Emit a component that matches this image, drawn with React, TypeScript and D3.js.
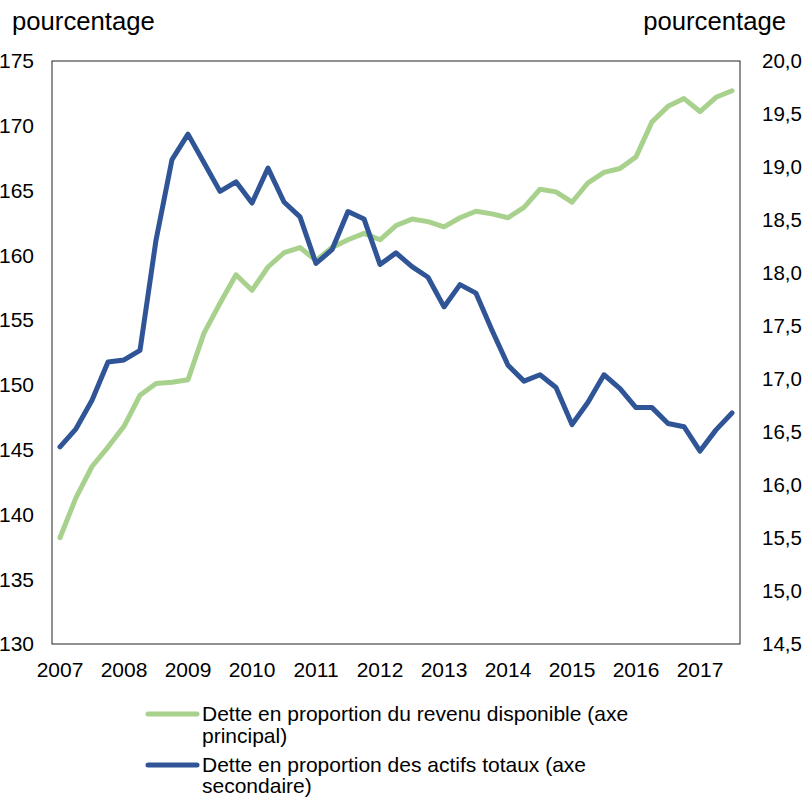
import React from 'react';
import * as d3 from 'd3';

// quarterly, 2007T1 .. 2017T3
const quarters: string[] = [];
for (let y = 2007; y <= 2017; y++) {
  for (let q = 1; q <= 4; q++) {
    if (y === 2017 && q === 4) break;
    quarters.push(`${y}T${q}`);
  }
}

const yearLabels = ['2007', '2008', '2009', '2010', '2011', '2012', '2013', '2014', '2015', '2016', '2017'];

// dette / revenu disponible (axe principal)
const debtToIncome = [
  138.2, 141.3, 143.7, 145.2, 146.8, 149.2, 150.1, 150.2, 150.4, 154.0,
  156.3, 158.5, 157.3, 159.1, 160.2, 160.6, 159.6, 160.6, 161.2, 161.7,
  161.2, 162.3, 162.8, 162.6, 162.2, 162.9, 163.4, 163.2, 162.9, 163.7,
  165.1, 164.9, 164.1, 165.6, 166.4, 166.7, 167.6, 170.3, 171.5, 172.1,
  171.1, 172.2, 172.7,
];

// dette / actifs totaux (axe secondaire)
const debtToAssets = [
  16.36, 16.53, 16.80, 17.16, 17.18, 17.27, 18.31, 19.07, 19.31, 19.04,
  18.77, 18.86, 18.66, 18.99, 18.67, 18.53, 18.09, 18.22, 18.58, 18.51,
  18.08, 18.19, 18.06, 17.96, 17.68, 17.89, 17.81, 17.46, 17.13, 16.98,
  17.04, 16.92, 16.57, 16.78, 17.04, 16.91, 16.73, 16.73, 16.58, 16.55,
  16.32, 16.52, 16.68,
];

const leftTicks = [130, 135, 140, 145, 150, 155, 160, 165, 170, 175];
const rightTicks = [14.5, 15, 15.5, 16, 16.5, 17, 17.5, 18, 18.5, 19, 19.5, 20];

const GREEN = '#a9d18e';
const BLUE = '#2f5597';
const FONT = '"Liberation Sans", Arial, sans-serif';

const App: React.FC = () => {
  const W = 805;
  const H = 799;
  const plot = { left: 52, right: 740, top: 61, bottom: 644 };

  const x = d3
    .scaleBand<number>()
    .domain(quarters.map((_, i) => i))
    .range([plot.left, plot.right]);
  const cx = (i: number) => (x(i) as number) + x.bandwidth() / 2;

  const yLeft = d3.scaleLinear().domain([130, 175]).range([plot.bottom, plot.top]);
  const yRight = d3.scaleLinear().domain([14.5, 20]).range([plot.bottom, plot.top]);

  const lineLeft = d3
    .line<number>()
    .x((_, i) => cx(i))
    .y((d) => yLeft(d));
  const lineRight = d3
    .line<number>()
    .x((_, i) => cx(i))
    .y((d) => yRight(d));

  const fmtRight = (v: number) => d3.format('.1f')(v).replace('.', ',');

  return (
    <svg
      width={W}
      height={H}
      style={{ position: 'absolute', left: 0, top: 0, background: '#fff' }}
      fontFamily={FONT}
    >
      <text x={12} y={30} fontSize={25.7} fill="#000">pourcentage</text>
      <text x={786} y={30} fontSize={25.7} fill="#000" textAnchor="end">pourcentage</text>

      {leftTicks.map((t) => (
        <text key={t} x={34} y={yLeft(t)} dy="0.35em" fontSize={21} textAnchor="end" fill="#000">
          {t}
        </text>
      ))}
      {rightTicks.map((t) => (
        <text key={t} x={762} y={yRight(t)} dy="0.35em" fontSize={20.5} fill="#000">
          {fmtRight(t)}
        </text>
      ))}
      {yearLabels.map((lab, k) => (
        <text key={lab} x={cx(k * 4)} y={677} fontSize={21} textAnchor="middle" fill="#000">
          {lab}
        </text>
      ))}

      <rect
        x={plot.left}
        y={plot.top}
        width={plot.right - plot.left}
        height={plot.bottom - plot.top}
        fill="none"
        stroke="#222"
        strokeWidth={1}
      />

      <path d={lineLeft(debtToIncome) || ''} fill="none" stroke={GREEN} strokeWidth={5} strokeLinejoin="round" strokeLinecap="round" />
      <path d={lineRight(debtToAssets) || ''} fill="none" stroke={BLUE} strokeWidth={5} strokeLinejoin="round" strokeLinecap="round" />

      {/* legend */}
      <line x1={148} x2={197} y1={714} y2={714} stroke={GREEN} strokeWidth={5} strokeLinecap="round" />
      <text x={202} y={721} fontSize={21} fill="#000">Dette en proportion du revenu disponible (axe</text>
      <text x={202} y={743} fontSize={21} fill="#000">principal)</text>
      <line x1={148} x2={197} y1={765} y2={765} stroke={BLUE} strokeWidth={5} strokeLinecap="round" />
      <text x={202} y={772} fontSize={21} fill="#000">Dette en proportion des actifs totaux (axe</text>
      <text x={202} y={793} fontSize={21} fill="#000">secondaire)</text>
    </svg>
  );
};

export default App;
